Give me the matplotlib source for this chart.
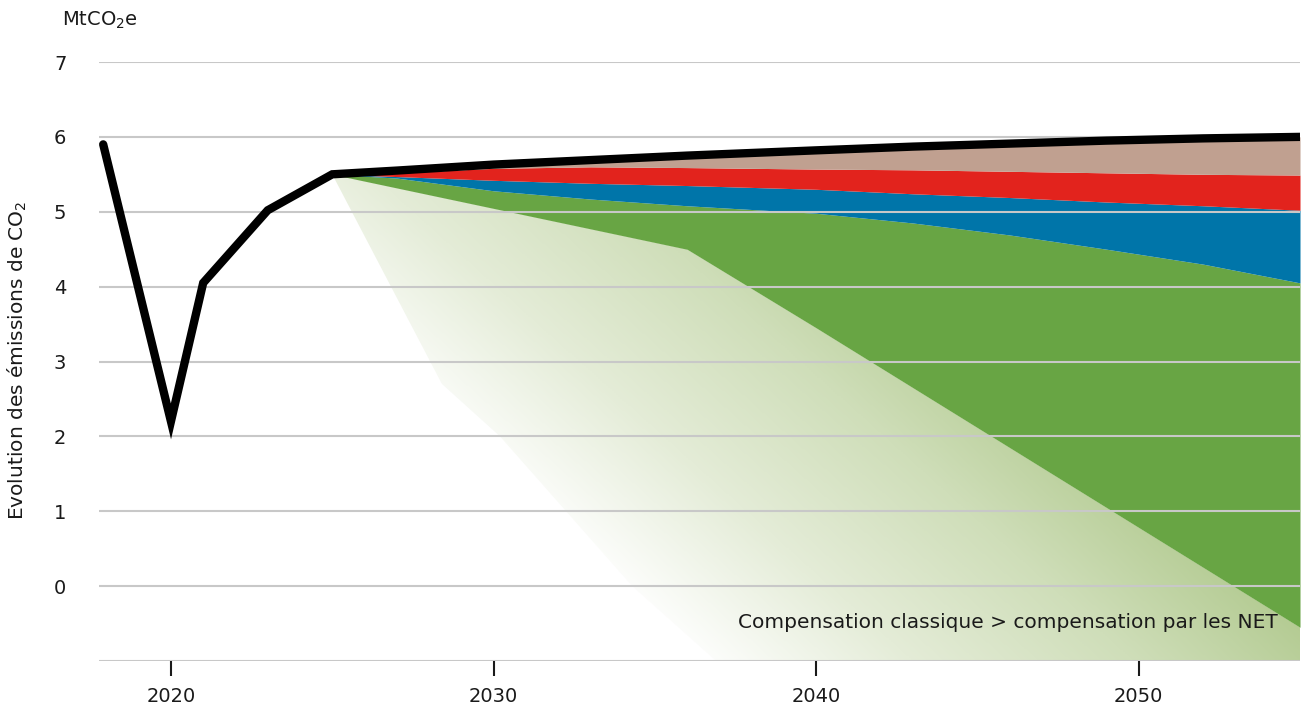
import numpy as np
import matplotlib
matplotlib.use("Agg")
import matplotlib.pyplot as plt
from matplotlib.path import Path
from matplotlib.patches import PathPatch
from matplotlib.colors import LinearSegmentedColormap

plt.rcParams['font.family'] = ['DejaVu Sans']
plt.rcParams['mathtext.fontset'] = 'dejavusans'

# historique + tendance (ligne noire)
hist_years = [2017.9, 2020, 2021, 2023, 2025]
hist_vals = [5.9, 2.2, 4.05, 5.02, 5.5]

proj_years = [2025, 2027, 2030, 2033, 2036, 2040, 2043, 2046, 2049, 2052, 2055]
total = [5.50, 5.55, 5.63, 5.69, 5.75, 5.82, 5.87, 5.91, 5.95, 5.98, 6.00]
brown_bottom = [5.50, 5.52, 5.58, 5.60, 5.59, 5.57, 5.56, 5.54, 5.52, 5.50, 5.49]
red_bottom = [5.50, 5.47, 5.42, 5.38, 5.35, 5.30, 5.24, 5.19, 5.13, 5.08, 5.02]
blue_bottom = [5.50, 5.45, 5.28, 5.17, 5.08, 4.98, 4.85, 4.69, 4.50, 4.30, 4.05]

green_years = [2025, 2036.1, 2055]
green_bottom = [5.50, 4.49, -0.55]

# zone "compensation classique" (bord gauche)
light_years = [2025, 2028.4, 2030.2, 2034.3, 2036.9]
light_vals = [5.50, 2.70, 2.00, 0.00, -1.00]

yticks = [0, 1, 2, 3, 4, 5, 6, 7]
xticks = [2020, 2030, 2040, 2050]

fig = plt.figure(figsize=(13.14, 7.13), dpi=100)
ax = fig.add_axes([99 / 1314, 52 / 713, 1201 / 1314, 599 / 713])
ax.set_xlim(2017.77, 2055)
ax.set_ylim(-1, 7)

# degrade vert clair
py = np.array(proj_years, dtype=float)
gb = np.interp(py, green_years, green_bottom)
poly = list(zip(light_years, light_vals)) + [(2055, -1.0), (2055, -0.55)]
poly += [(x, y) for x, y in zip(py[::-1], gb[::-1])]
path = Path(poly)
patch = PathPatch(path, facecolor='none', edgecolor='none')
ax.add_patch(patch)

gx = np.linspace(2017.77, 2055, 600)
gy = np.linspace(-1, 7, 300)
XX, YY = np.meshgrid(gx, gy)
px = 171 + (XX - 2020) * 32.27
pyy = 586 - YY * 74.9
t = 0.9 * px - pyy
t = np.clip((t + 40) / (560 + 40), 0, 1)
cmap = LinearSegmentedColormap.from_list('g', ['#ffffff', '#e4ecd7', '#cfdeb9', '#b2ca90'], N=256)
img = ax.imshow(t, extent=(2017.77, 2055, -1, 7), origin='lower', cmap=cmap,
                vmin=0, vmax=1, aspect='auto', zorder=1, interpolation='bilinear')
img.set_clip_path(patch)

# couches empilees
ax.fill_between(py, gb, blue_bottom, color='#68a544', lw=0, zorder=2)
ax.fill_between(py, blue_bottom, red_bottom, color='#0075a9', lw=0, zorder=2)
ax.fill_between(py, red_bottom, brown_bottom, color='#e2231d', lw=0, zorder=2)
ax.fill_between(py, brown_bottom, total, color='#c0a090', lw=0, zorder=2)

# grille
for v in [-1] + yticks:
    ax.axhline(v, color='#c8c8c8', lw=1.5, zorder=3)

ax.plot(hist_years + proj_years[1:], hist_vals + total[1:], color='black', lw=6,
        solid_capstyle='round', solid_joinstyle='miter', zorder=4)

for s in ax.spines.values():
    s.set_visible(False)
ax.set_yticks(yticks)
ax.set_yticklabels([str(v) for v in yticks], fontsize=14, color='#1a1a1a')
ax.tick_params(axis='y', length=0, pad=28)
ax.set_xticks(xticks)
ax.set_xticklabels([str(v) for v in xticks], fontsize=14, color='#1a1a1a')
ax.tick_params(axis='x', length=11, width=1.5, color='#1a1a1a', pad=8)
for lbl in ax.get_yticklabels():
    lbl.set_horizontalalignment('center')

fig.text(17 / 1314, 1 - 360 / 713, 'Evolution des émissions de CO$_2$', fontsize=14.5,
         color='#1a1a1a', rotation=90, ha='center', va='center')
fig.text(62 / 1314, 1 - 20 / 713, 'MtCO$_2$e', fontsize=14,
         color='#1a1a1a', va='center', ha='left')
ax.text(2054.3, -0.49, 'Compensation classique > compensation par les NET',
        fontsize=14.5, color='#1a1a1a', ha='right', va='center', zorder=5)

fig.savefig('out.png', dpi=100)
